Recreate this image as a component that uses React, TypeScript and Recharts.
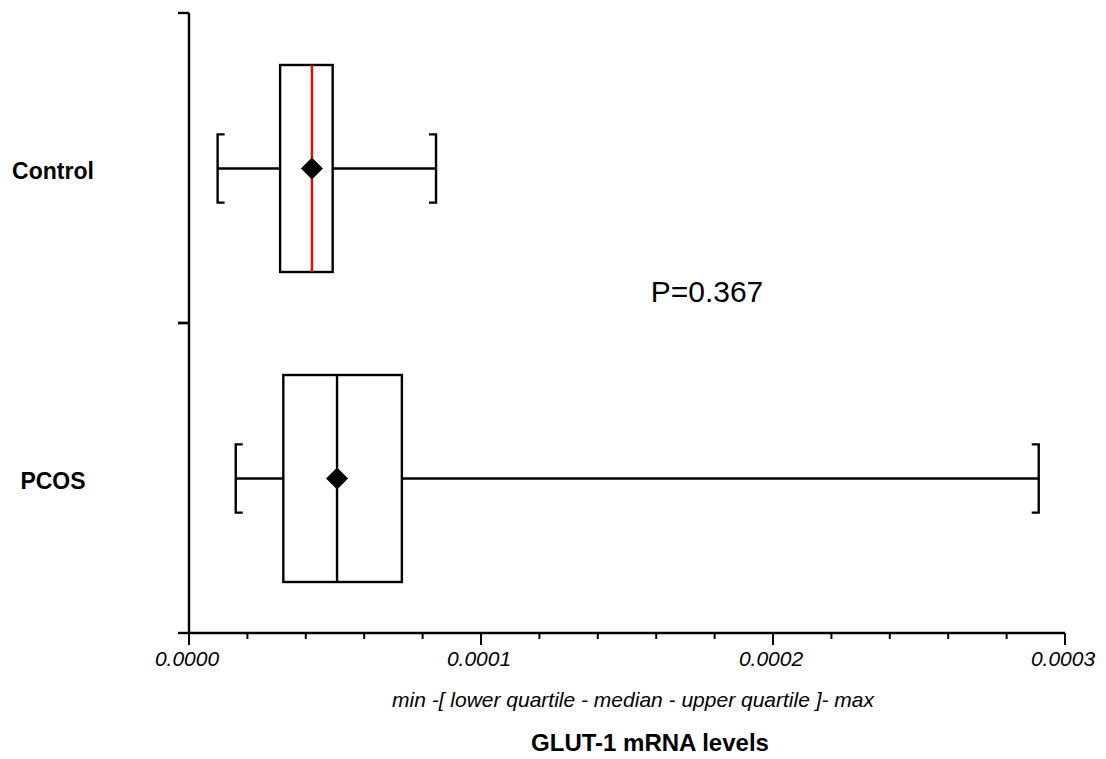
import React from "react";
import { ComposedChart, Bar, XAxis, YAxis, Customized } from "recharts";

const categories = ["Control", "PCOS"];
const minValues = [0.0000098, 0.000016];
const q1Values = [0.0000312, 0.0000323];
const medianValues = [0.0000421, 0.0000507];
const q3Values = [0.0000492, 0.0000729];
const maxValues = [0.0000846, 0.000291];
const meanValues = [0.0000421, 0.0000507];
const xTicks = [
  0, 0.00002, 0.00004, 0.00006, 0.00008, 0.0001, 0.00012, 0.00014, 0.00016,
  0.00018, 0.0002, 0.00022, 0.00024, 0.00026, 0.00028, 0.0003,
];
const pValueText = "P=0.367";

const medianColors: Record<string, string> = { Control: "#ff0000", PCOS: "#000000" };

const data = categories.map((c, i) => ({
  name: c,
  range: [minValues[i], maxValues[i]],
  min: minValues[i],
  q1: q1Values[i],
  median: medianValues[i],
  q3: q3Values[i],
  max: maxValues[i],
  mean: meanValues[i],
}));

const SANS = "'Liberation Sans', Arial, sans-serif";

const BoxShape = (props: any) => {
  const { x, y, width, height, payload } = props;
  if (payload == null || width == null) return null;
  const { min, max, q1, q3, median, mean, name } = payload;
  const f = (v: number) => x + ((v - min) / (max - min)) * width;
  const cy = y + height / 2;
  const capHalf = height * 0.165;
  const capLen = 7;
  const xMin = f(min);
  const xMax = f(max);
  const xQ1 = f(q1);
  const xQ3 = f(q3);
  const xMed = f(median);
  const xMean = f(mean);
  const d = 11;
  return (
    <g>
      <line x1={xMin} y1={cy} x2={xQ1} y2={cy} stroke="#000" strokeWidth={2.4} />
      <line x1={xQ3} y1={cy} x2={xMax} y2={cy} stroke="#000" strokeWidth={2.4} />
      <polyline
        points={`${xMin + capLen},${cy - capHalf} ${xMin},${cy - capHalf} ${xMin},${cy + capHalf} ${xMin + capLen},${cy + capHalf}`}
        fill="none"
        stroke="#000"
        strokeWidth={2.4}
      />
      <polyline
        points={`${xMax - capLen},${cy - capHalf} ${xMax},${cy - capHalf} ${xMax},${cy + capHalf} ${xMax - capLen},${cy + capHalf}`}
        fill="none"
        stroke="#000"
        strokeWidth={2.4}
      />
      <rect x={xQ1} y={y} width={xQ3 - xQ1} height={height} fill="#fff" stroke="#000" strokeWidth={2.4} />
      <line x1={xMed} y1={y} x2={xMed} y2={y + height} stroke={medianColors[name] || "#000"} strokeWidth={2.4} />
      <polygon
        points={`${xMean},${cy - d} ${xMean + d},${cy} ${xMean},${cy + d} ${xMean - d},${cy}`}
        fill="#000"
      />
    </g>
  );
};

const isMajor = (v: number) => Math.abs(v * 10000 - Math.round(v * 10000)) < 1e-9;

const XTick = (props: any) => {
  const { x, y, payload } = props;
  const v = payload.value as number;
  const major = isMajor(v);
  return (
    <g>
      <line x1={x} y1={y} x2={x} y2={y + (major ? 12 : 6)} stroke="#000" strokeWidth={2} />
      {major && (
        <text
          x={x - 2}
          y={y + 33}
          textAnchor="middle"
          fontFamily={SANS}
          fontStyle="italic"
          fontSize={21}
          fill="#000"
        >
          {v.toFixed(4)}
        </text>
      )}
    </g>
  );
};

const YTick = (props: any) => {
  const { x, y, payload } = props;
  const off = payload && typeof payload.offset === "number" && payload.offset > 0 ? payload.offset : 155;
  return (
    <g>
      <line x1={x - 11} y1={y - off} x2={x} y2={y - off} stroke="#000" strokeWidth={2.4} />
      <line x1={x - 11} y1={y + off} x2={x} y2={y + off} stroke="#000" strokeWidth={2.4} />
      <text x={x - 136} y={y + 11} textAnchor="middle" fontFamily={SANS} fontWeight="bold" fontSize={23} fill="#000">
        {payload.value}
      </text>
    </g>
  );
};

const Annotations = () => (
  <g>
    <text x={699} y={294} textAnchor="middle" fontFamily={SANS} fontSize={30} fill="#000">
      {pValueText}
    </text>
    <text x={625} y={699} textAnchor="middle" fontFamily={SANS} fontStyle="italic" fontSize={21} fill="#000">
      min -[ lower quartile - median - upper quartile ]- max
    </text>
    <text x={642} y={743} textAnchor="middle" fontFamily={SANS} fontWeight="bold" fontSize={24} fill="#000">
      GLUT-1 mRNA levels
    </text>
  </g>
);

export default function App() {
  return (
    <div style={{ width: 1098, height: 750, background: "#fff" }}>
      <ComposedChart
        width={1098}
        height={750}
        data={data}
        layout="vertical"
        margin={{ top: 5, right: 41, left: 0, bottom: 0 }}
      >
        <XAxis
          type="number"
          domain={[0, 0.0003]}
          ticks={xTicks}
          interval={0}
          height={125}
          tickSize={0}
          tickMargin={0}
          tickLine={false}
          tick={<XTick />}
          axisLine={{ stroke: "#000", strokeWidth: 2.4 }}
          allowDataOverflow
        />
        <YAxis
          type="category"
          dataKey="name"
          width={181}
          tickSize={0}
          tickMargin={0}
          tickLine={false}
          tick={<YTick />}
          interval={0}
          axisLine={{ stroke: "#000", strokeWidth: 2.4 }}
        />
        <Bar dataKey="range" barSize={207} shape={<BoxShape />} isAnimationActive={false} />
        <Customized component={Annotations} />
      </ComposedChart>
    </div>
  );
}
